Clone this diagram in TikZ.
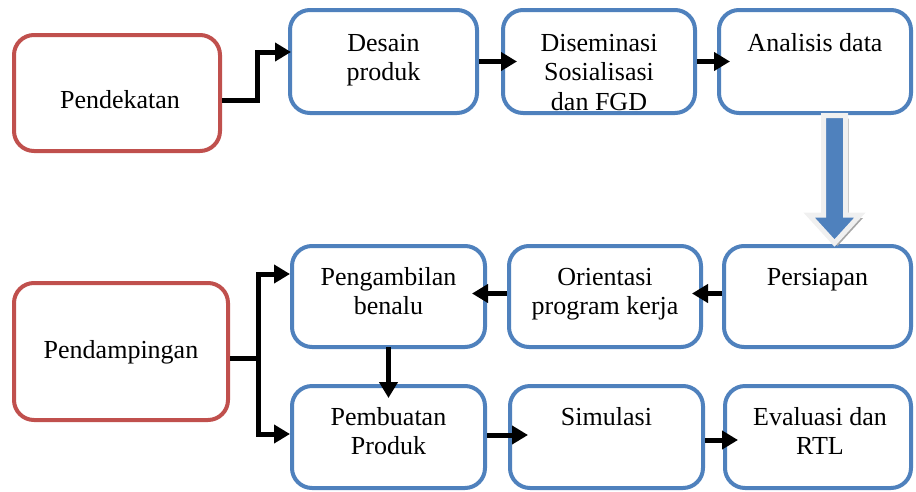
\documentclass[tikz,border=0pt]{standalone}
\usepackage{fontspec}
\setmainfont{Liberation Serif}
\usetikzlibrary{arrows.meta}
\definecolor{boxblue}{HTML}{4F81BD}
\definecolor{boxred}{HTML}{C0504D}
\newcommand\mylines[1]{\begin{tabular}[t]{@{}c@{}}#1\end{tabular}}
\begin{document}
\begin{tikzpicture}[x=1pt,y=-1pt,
  bluebox/.style={draw=boxblue, line width=4pt, rounded corners=20pt, fill=white, inner sep=0pt},
  redbox/.style={draw=boxred, line width=4pt, rounded corners=20pt, fill=white, inner sep=0pt},
  txt/.style={anchor=base, inner sep=0pt, font=\fontsize{26}{29.5}\selectfont},
  conn/.style={line width=5pt, -{Triangle[length=16pt,width=18pt]}},
  bigarrow/.style={fill=boxblue, draw=white!94!black, line width=5pt, line join=miter}]
\useasboundingbox (0,0) rectangle (916,491);
% boxes
\node[redbox, minimum width=206pt, minimum height=116pt] (pendekatan) at (117,93) {};
\node[bluebox, minimum width=187pt, minimum height=103pt] (desain) at (383.5,61.5) {};
\node[bluebox, minimum width=192pt, minimum height=103pt] (disem) at (599,61.5) {};
\node[bluebox, minimum width=192pt, minimum height=103pt] (analisis) at (815,61.5) {};
\node[bluebox, minimum width=187pt, minimum height=101pt] (persiapan) at (817.5,296.5) {};
\node[bluebox, minimum width=192pt, minimum height=101pt] (orientasi) at (605,296.5) {};
\node[bluebox, minimum width=193pt, minimum height=101pt] (pengambilan) at (388.5,296.5) {};
\node[redbox, minimum width=214pt, minimum height=137pt] (pendampingan) at (121,351.5) {};
\node[bluebox, minimum width=193pt, minimum height=102pt] (pembuatan) at (388.5,437) {};
\node[bluebox, minimum width=193pt, minimum height=102pt] (simulasi) at (606.5,437) {};
\node[bluebox, minimum width=186pt, minimum height=102pt] (evaluasi) at (818,437) {};
% texts
\node[txt] (tpendekatan) at (120,108) {Pendekatan};
\node[txt] (tdesain) at (383.5,51) {\mylines{Desain\\produk}};
\node[txt] (tdisem) at (599,51) {\mylines{Diseminasi\\Sosialisasi\\dan FGD}};
\node[txt] (tanalisis) at (815,51) {Analisis data};
\node[txt] (tpersiapan) at (817.5,285) {Persiapan};
\node[txt] (torientasi) at (605,285) {\mylines{Orientasi\\program kerja}};
\node[txt] (tpengambilan) at (388.5,285) {\mylines{Pengambilan\\benalu}};
\node[txt] (tpendampingan) at (121,358) {Pendampingan};
\node[txt] (tpembuatan) at (388.5,425) {\mylines{Pembuatan\\Produk}};
\node[txt] (tsimulasi) at (606.5,425) {Simulasi};
\node[txt] (tevaluasi) at (820,425) {\mylines{Evaluasi dan\\RTL}};
% connectors
\coordinate (j1) at (257,100);
\coordinate (j2) at (257,52);
\draw[conn] ([yshift=-7pt]pendekatan.east) -- (j1) -- (j2) -- ([xshift=3pt]desain.west |- j2);
\draw[conn] (desain.east) -- ([xshift=16pt]disem.west);
\draw[conn] (disem.east) -- ([xshift=13pt]analisis.west);
\draw[conn] ([yshift=3pt]persiapan.west) -- ([xshift=-11pt,yshift=3pt]orientasi.east);
\draw[conn] ([yshift=3pt]orientasi.west) -- ([xshift=-15pt,yshift=3pt]pengambilan.east);
\draw[conn] ([yshift=2pt]pengambilan.south) -- ([yshift=-14pt]pembuatan.north);
\draw[conn] ([yshift=2pt]pembuatan.east) -- ([xshift=20pt,yshift=2pt]simulasi.west);
\draw[conn] ([yshift=-3pt]simulasi.east) -- ([xshift=15pt,yshift=-3pt]evaluasi.west);
\coordinate (b0) at (258,358);
\coordinate (b1) at (258,274);
\coordinate (b2) at (258,434);
\draw[line width=5pt] ([yshift=-6.5pt]pendampingan.east) -- (b0);
\draw[conn] (b0) |- (pengambilan.west |- b1);
\draw[conn] (b0) |- (pembuatan.west |- b2);
% big block arrow
\fill[black!35] (826.5,118.5) -- (848.5,118.5) -- (848.5,218) -- (863,218) -- (837.5,246) -- (812,218) -- (826.5,218) -- cycle;
\draw[bigarrow] (823.5,115.5) -- (845.5,115.5) -- (845.5,215) -- (860,215) -- (834.5,243) -- (809,215) -- (823.5,215) -- cycle;
\end{tikzpicture}
\end{document}
